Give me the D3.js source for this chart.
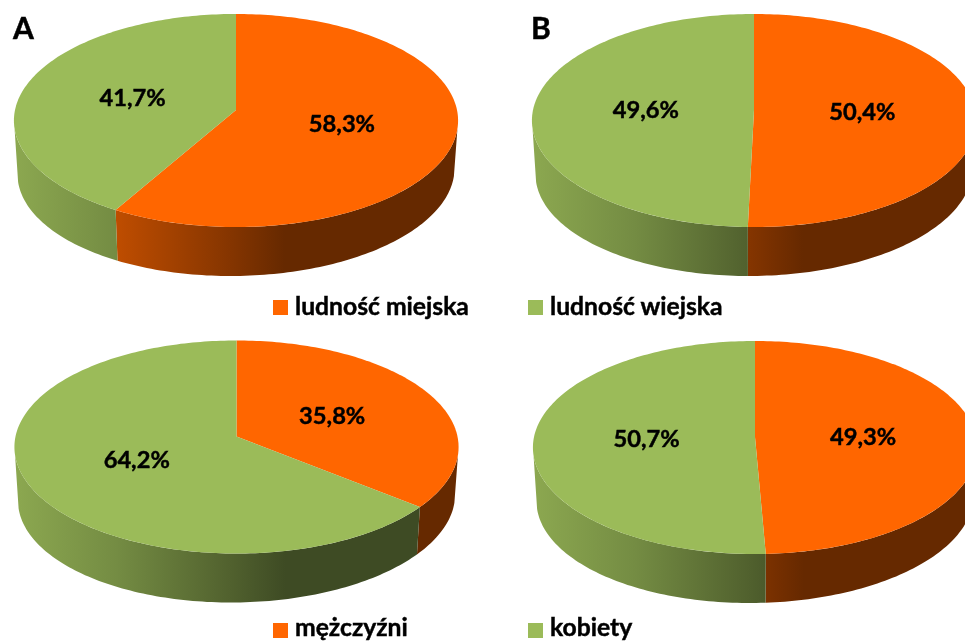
<!DOCTYPE html>
<html>
<head>
<meta charset="utf-8">
<script src="https://cdn.jsdelivr.net/npm/d3@7"></script>
<style>
  html, body { margin: 0; padding: 0; background: #fff; }
  svg { display: block; filter: blur(0.45px); }
  text { font-family: Lato, "Open Sans", sans-serif; font-weight: 700; fill: #000; stroke: #000; stroke-width: 0.45px; }
</style>
</head>
<body>
<div id="chart"></div>
<script>
const width = 965, height = 641;

const residenceLabels = ["ludność miejska", "ludność wiejska"];
const sexLabels = ["mężczyźni", "kobiety"];
const panelLetters = ["A", "B"];

const residenceA = [58.3, 41.7];
const residenceB = [50.4, 49.6];
const sexA = [35.8, 64.2];
const sexB = [49.3, 50.7];

const sliceColors = ["#FF6600", "#9BBB59"];

// wall shading, left to right across the pie (multiplies the slice colour)
const shadeOffsets = [0, 0.23, 0.486, 0.61, 1];
const shadeFactors = [0.9, 0.75, 0.52, 0.4, 0.4];

// pie geometry, all pies share it
const R = 221, Q = 105.5, persp = 0.0986;
const wallDrop = 50.8, wallScale = 0.984, wallTilt = 3;
const labelRadius = 0.49;
// the wall only shows between these angles (silhouette of the disc)
const wallStart = 100 * Math.PI / 180, wallEnd = 260 * Math.PI / 180;

const pies = [
    { id: "a1", values: residenceA, cx: 236, cy: 110 },
    { id: "b1", values: residenceB, cx: 754, cy: 110 },
    { id: "a2", values: sexA, cx: 236.5, cy: 436.5 },
    { id: "b2", values: sexB, cx: 755, cy: 437 }
];

const legends = [
    { labels: residenceLabels, y: 300, baseline: 315 },
    { labels: sexLabels, y: 623, baseline: 636 }
];
const legendX = [273, 528];

const decimalComma = d3.formatLocale({ decimal: ",", thousands: " ", grouping: [3], currency: ["", ""] });
const fmt = decimalComma.format(".1f");

const svg = d3.select("#chart").append("svg")
    .attr("width", width)
    .attr("height", height)
    .attr("viewBox", [0, 0, width, height]);

const defs = svg.append("defs");
const pieLayout = d3.pie().sort(null).value(d => d);
const line = d3.line();

// circle angle (clockwise from the top) to screen, with a little perspective
function project(p, angle, r = 1) {
    const u = Math.sin(angle) * r, v = -Math.cos(angle) * r;
    const s = 1 / (1 - persp * v);
    return [p.cx + R * u * s, p.cy + Q * v * s];
}

// same, on the lower rim of the disc
function projectLower(p, angle) {
    const u = Math.sin(angle), v = -Math.cos(angle);
    const s = 1 / (1 - persp * v);
    return [p.cx + R * wallScale * u * s, p.cy + wallDrop - wallTilt * u + Q * wallScale * v * s];
}

function angleSteps(a0, a1) {
    const n = Math.max(2, Math.ceil((a1 - a0) / 0.02));
    return d3.range(n + 1).map(i => a0 + (a1 - a0) * i / n);
}

function shade(color, f) {
    const c = d3.rgb(color);
    return d3.rgb(c.r * f, c.g * f, c.b * f).formatHex();
}

pies.forEach(p => {
    const arcs = pieLayout(p.values);
    const g = svg.append("g");

    arcs.forEach((d, i) => {
        const a0 = Math.max(d.startAngle, wallStart), a1 = Math.min(d.endAngle, wallEnd);
        if (a1 <= a0) return;

        const gradId = `wall-${p.id}-${i}`;
        const grad = defs.append("linearGradient")
            .attr("id", gradId)
            .attr("gradientUnits", "userSpaceOnUse")
            .attr("x1", p.cx - 222).attr("x2", p.cx + 222)
            .attr("y1", 0).attr("y2", 0);
        shadeOffsets.forEach((o, k) => {
            grad.append("stop")
                .attr("offset", o)
                .attr("stop-color", shade(sliceColors[i], shadeFactors[k]));
        });

        const angles = angleSteps(a0, a1);
        const upper = angles.map(a => project(p, a));
        const lower = angles.map(a => projectLower(p, a)).reverse();
        g.append("path")
            .attr("d", line(upper.concat(lower)) + "Z")
            .attr("fill", `url(#${gradId})`);
    });

    arcs.forEach((d, i) => {
        const rim = angleSteps(d.startAngle, d.endAngle).map(a => project(p, a));
        g.append("path")
            .attr("d", line([[p.cx, p.cy]].concat(rim)) + "Z")
            .attr("fill", sliceColors[i]);
    });

    g.selectAll("text")
        .data(arcs)
        .join("text")
        .attr("text-anchor", "middle")
        .attr("dominant-baseline", "central")
        .attr("font-size", 23.7)
        .attr("x", d => project(p, (d.startAngle + d.endAngle) / 2, labelRadius)[0])
        .attr("y", d => project(p, (d.startAngle + d.endAngle) / 2, labelRadius)[1])
        .text(d => fmt(d.data) + "%");
});

svg.selectAll("text.letter")
    .data(panelLetters)
    .join("text")
    .attr("class", "letter")
    .attr("x", (d, i) => [13, 531][i])
    .attr("y", 39)
    .attr("font-size", 30)
    .text(d => d);

legends.forEach(l => {
    const row = svg.append("g");
    l.labels.forEach((t, i) => {
        row.append("rect")
            .attr("x", legendX[i]).attr("y", l.y)
            .attr("width", 15).attr("height", 15)
            .attr("fill", sliceColors[i]);
        row.append("text")
            .attr("x", legendX[i] + 22).attr("y", l.baseline)
            .attr("font-size", 24.7)
            .text(t);
    });
});
</script>
</body>
</html>
